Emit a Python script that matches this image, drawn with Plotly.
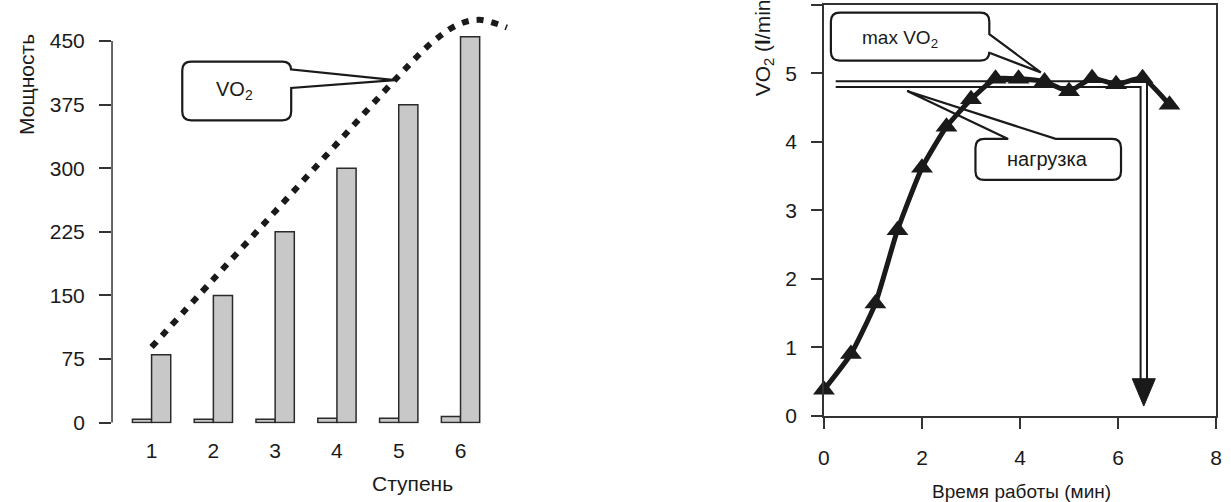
import plotly.graph_objects as go

# ---------------- data ----------------
# Left chart: stage power bars
steps = [1, 2, 3, 4, 5, 6]
rest_bars = [4, 4, 4, 5, 5, 7]
power = [80, 150, 225, 300, 375, 455]
power_ticks = [0, 75, 150, 225, 300, 375, 450]
# dotted VO2 curve over stages
vo2_stage_x = [1.0, 2.0, 3.0, 4.0, 5.0, 5.55, 5.95, 6.3, 6.75]
vo2_stage_y = [89, 169, 249, 329, 409, 449, 469, 475, 466]

# Right chart: VO2 vs time
time_min = [0, 0.55, 1.05, 1.5, 2.0, 2.5, 3.0, 3.5, 3.97, 4.5, 5.0, 5.47, 5.96, 6.5, 7.05]
vo2_lmin = [0.38, 0.90, 1.64, 2.71, 3.62, 4.22, 4.62, 4.92, 4.92, 4.88, 4.74, 4.93, 4.84, 4.93, 4.54]
time_ticks = [0, 2, 4, 6, 8]
vo2_ticks = [0, 1, 2, 3, 4, 5, 6]

# load marker (double line with downward arrow)
load_x_start = 0.24
load_y_outer = 4.885
load_y_inner = 4.80
drop_x_outer = 6.59
drop_x_inner = 6.46
drop_y_end = 0.52
arrow_half_w = 0.235
arrow_tip_y = 0.14

W, H = 1231, 502
FONT = "Liberation Sans, Arial, Helvetica, sans-serif"
INK = "#1a1a1a"


def pxx(px):
    return px / W


def pxy(py):
    return 1 - py / H


# left axes pixel mapping
L_X0, L_DX = 147, 62.4        # category 1 at px 147, 62.4 px per step
L_Y0, L_DY = 432, 0.8667      # value 0 at py 432
lx_range = [0.36, 7.0]
ly_range = [-1, 487]
lx_dom = [pxx(L_X0 + (lx_range[0] - 1) * L_DX), pxx(L_X0 + (lx_range[1] - 1) * L_DX)]
ly_dom = [pxy(L_Y0 - ly_range[0] * L_DY), pxy(L_Y0 - ly_range[1] * L_DY)]

# right axes pixel mapping
R_X0, R_DX = 826, 49.5
R_Y0, R_DY = 425, 70
rx_range = [0, 8]
ry_range = [0, 6]
rx_dom = [pxx(R_X0), pxx(R_X0 + 8 * R_DX)]
ry_dom = [pxy(R_Y0), pxy(R_Y0 - 6 * R_DY)]

fig = go.Figure()

bar_style = dict(color="#c8c8c8", line=dict(color="#2a2a2a", width=1.5))
fig.add_trace(go.Bar(x=steps, y=rest_bars, width=0.31, offset=-0.31,
                     marker=bar_style, xaxis="x", yaxis="y"))
fig.add_trace(go.Bar(x=steps, y=power, width=0.31, offset=0.0,
                     marker=bar_style, xaxis="x", yaxis="y"))
fig.add_trace(go.Scatter(x=vo2_stage_x, y=vo2_stage_y, mode="lines",
                         line=dict(color=INK, width=6, dash="7px,8px", shape="spline"),
                         xaxis="x", yaxis="y", cliponaxis=False))

fig.add_trace(go.Scatter(x=time_min, y=vo2_lmin, mode="lines+markers",
                         line=dict(color=INK, width=5, shape="spline", smoothing=0.5),
                         marker=dict(symbol="triangle-up", size=19, color=INK),
                         xaxis="x2", yaxis="y2", cliponaxis=False))

axis_common = dict(showgrid=False, zeroline=False, tickfont=dict(family=FONT, size=21, color=INK),
                   tickcolor="#333", tickwidth=1.5)

fig.update_layout(
    width=W, height=H,
    margin=dict(l=0, r=0, t=0, b=0),
    plot_bgcolor="white", paper_bgcolor="white",
    showlegend=False, barmode="overlay",
    font=dict(family=FONT, size=20, color=INK),
    xaxis=dict(domain=lx_dom, range=lx_range, tickvals=steps, ticks="", showline=False,
               ticklabelstandoff=13, **axis_common),
    yaxis=dict(domain=ly_dom, range=ly_range, tickvals=power_ticks, ticks="outside", ticklen=12,
               showline=False, ticklabelstandoff=10, anchor="x", **axis_common),
    xaxis2=dict(domain=rx_dom, range=rx_range, tickvals=time_ticks, ticks="outside", ticklen=12,
                showline=True, mirror=True, linecolor="#333", linewidth=1.5,
                ticklabelstandoff=10, anchor="y2", **axis_common),
    yaxis2=dict(domain=ry_dom, range=ry_range, tickvals=vo2_ticks, ticks="outside", ticklen=11,
                showline=True, mirror=True, linecolor="#333", linewidth=1.5,
                ticklabelstandoff=10, anchor="x2", **axis_common),
)

shapes = []
# left y axis line only from 0 to 450
shapes.append(dict(type="line", xref="paper", yref="y", x0=lx_dom[0], x1=lx_dom[0],
                   y0=0, y1=power_ticks[-1], line=dict(color="#333", width=1.5)))

# double load line
dbl = dict(color=INK, width=2)
shapes.append(dict(type="path", xref="x2", yref="y2", layer="below",
                   path=f"M{load_x_start},{load_y_outer} L{drop_x_outer},{load_y_outer} L{drop_x_outer},{drop_y_end}",
                   line=dbl))
shapes.append(dict(type="path", xref="x2", yref="y2", layer="below",
                   path=f"M{load_x_start},{load_y_inner} L{drop_x_inner},{load_y_inner} L{drop_x_inner},{drop_y_end}",
                   line=dbl))
ax_c = (drop_x_outer + drop_x_inner) / 2
shapes.append(dict(type="path", xref="x2", yref="y2",
                   path=f"M{ax_c - arrow_half_w},{drop_y_end + 0.02} L{ax_c + arrow_half_w},{drop_y_end + 0.02} L{ax_c},{arrow_tip_y} Z",
                   fillcolor=INK, line=dict(color=INK, width=1)))


def callout(x0, y0, x1, y1, r, side, a, b, tip):
    def P(x, y):
        return f"{pxx(x):.5f},{pxy(y):.5f}"
    tx, ty = tip
    s = f"M{P(x0 + r, y0)} "
    if side == "top":
        s += f"L{P(a, y0)} L{P(tx, ty)} L{P(b, y0)} "
    s += f"L{P(x1 - r, y0)} Q{P(x1, y0)} {P(x1, y0 + r)} "
    if side == "right":
        s += f"L{P(x1, a)} L{P(tx, ty)} L{P(x1, b)} "
    s += f"L{P(x1, y1 - r)} Q{P(x1, y1)} {P(x1 - r, y1)} "
    s += f"L{P(x0 + r, y1)} Q{P(x0, y1)} {P(x0, y1 - r)} "
    s += f"L{P(x0, y0 + r)} Q{P(x0, y0)} {P(x0 + r, y0)} Z"
    return dict(type="path", xref="paper", yref="paper", path=s,
                line=dict(color=INK, width=2.2), fillcolor="rgba(0,0,0,0)")


shapes.append(callout(178, 63, 288, 123, 9, "right", 71, 90, (393, 82)))
shapes.append(callout(833, 13, 993, 62, 9, "right", 35, 54, (1045, 74)))
shapes.append(callout(979, 142, 1126, 184, 9, "top", 1012, 1060, (910, 93)))
fig.update_layout(shapes=shapes)

ann = []


def txt(text, x, y, size=20, angle=0, xa="center", ya="middle"):
    ann.append(dict(text=text, x=pxx(x), y=pxy(y), xref="paper", yref="paper",
                    showarrow=False, textangle=angle, xanchor=xa, yanchor=ya,
                    font=dict(family=FONT, size=size, color=INK)))


txt("Мощность", 20, 86, size=21, angle=-90)
txt("Ступень", 410, 494, size=21)
txt("Время работы (мин)", 1025, 502, size=19)
txt("VO<sub>2</sub> (<b>l</b>/min)", 765, 101, size=21, angle=-90, ya="bottom")
txt("VO<sub>2</sub>", 231, 93, size=20)
txt("max VO<sub>2</sub>", 903, 40, size=19)
txt("нагрузка", 1052, 163, size=20)
fig.update_layout(annotations=ann)

fig.write_html("out.html")
